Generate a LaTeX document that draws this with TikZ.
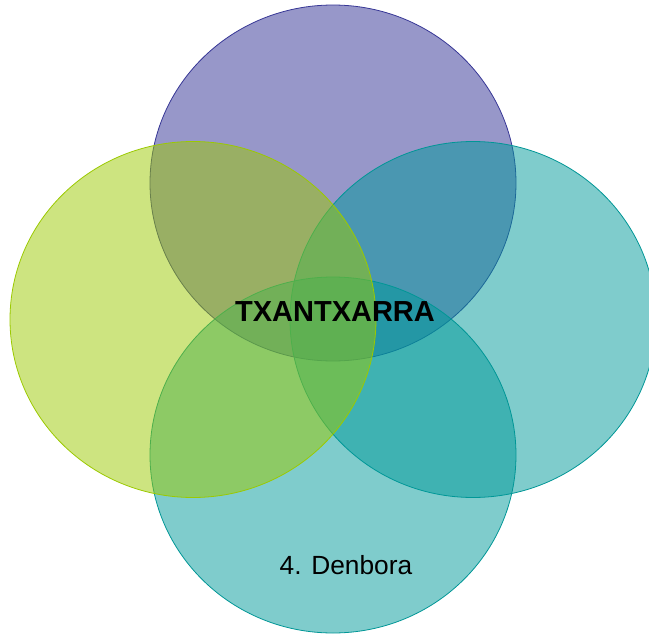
\documentclass[tikz,border=0pt]{standalone}
\usepackage{fontspec}
\setmainfont{Liberation Sans}
\usetikzlibrary{shapes.geometric}
\definecolor{purpfill}{RGB}{47,47,147}
\definecolor{purpline}{RGB}{55,55,150}
\definecolor{limefill}{RGB}{155,201,1}
\definecolor{limeline}{RGB}{155,201,1}
\definecolor{tealfill}{RGB}{0,153,153}
\definecolor{tealline}{RGB}{0,150,150}
\tikzset{
  petal/.style={ellipse, minimum width=366pt, minimum height=356pt, inner sep=0pt, line width=0.8pt, fill opacity=0.5, draw opacity=1},
  purppetal/.style={petal, draw=purpline, fill=purpfill},
  limepetal/.style={petal, draw=limeline, fill=limefill},
  tealpetal/.style={petal, draw=tealline, fill=tealfill},
  title/.style={anchor=base, inner sep=0pt, font=\fontsize{29}{29}\selectfont\bfseries},
  label/.style={anchor=base, inner sep=0pt, font=\fontsize{26.3}{26.3}\selectfont}
}
\begin{document}
\begin{tikzpicture}[x=1pt,y=-1pt]
\useasboundingbox (0,0) rectangle (649,635);
\node[purppetal] (top) at (333,183) {};
\node[tealpetal] (right) at (473,319.5) {};
\node[tealpetal] (bottom) at (333,455) {};
\node[limepetal] (left) at (193,319.5) {};
\node[title] (center) at (335,321) {TXANTXARRA};
\node[label] (denbora) at (346,574) {4. Denbora};
\end{tikzpicture}
\end{document}
